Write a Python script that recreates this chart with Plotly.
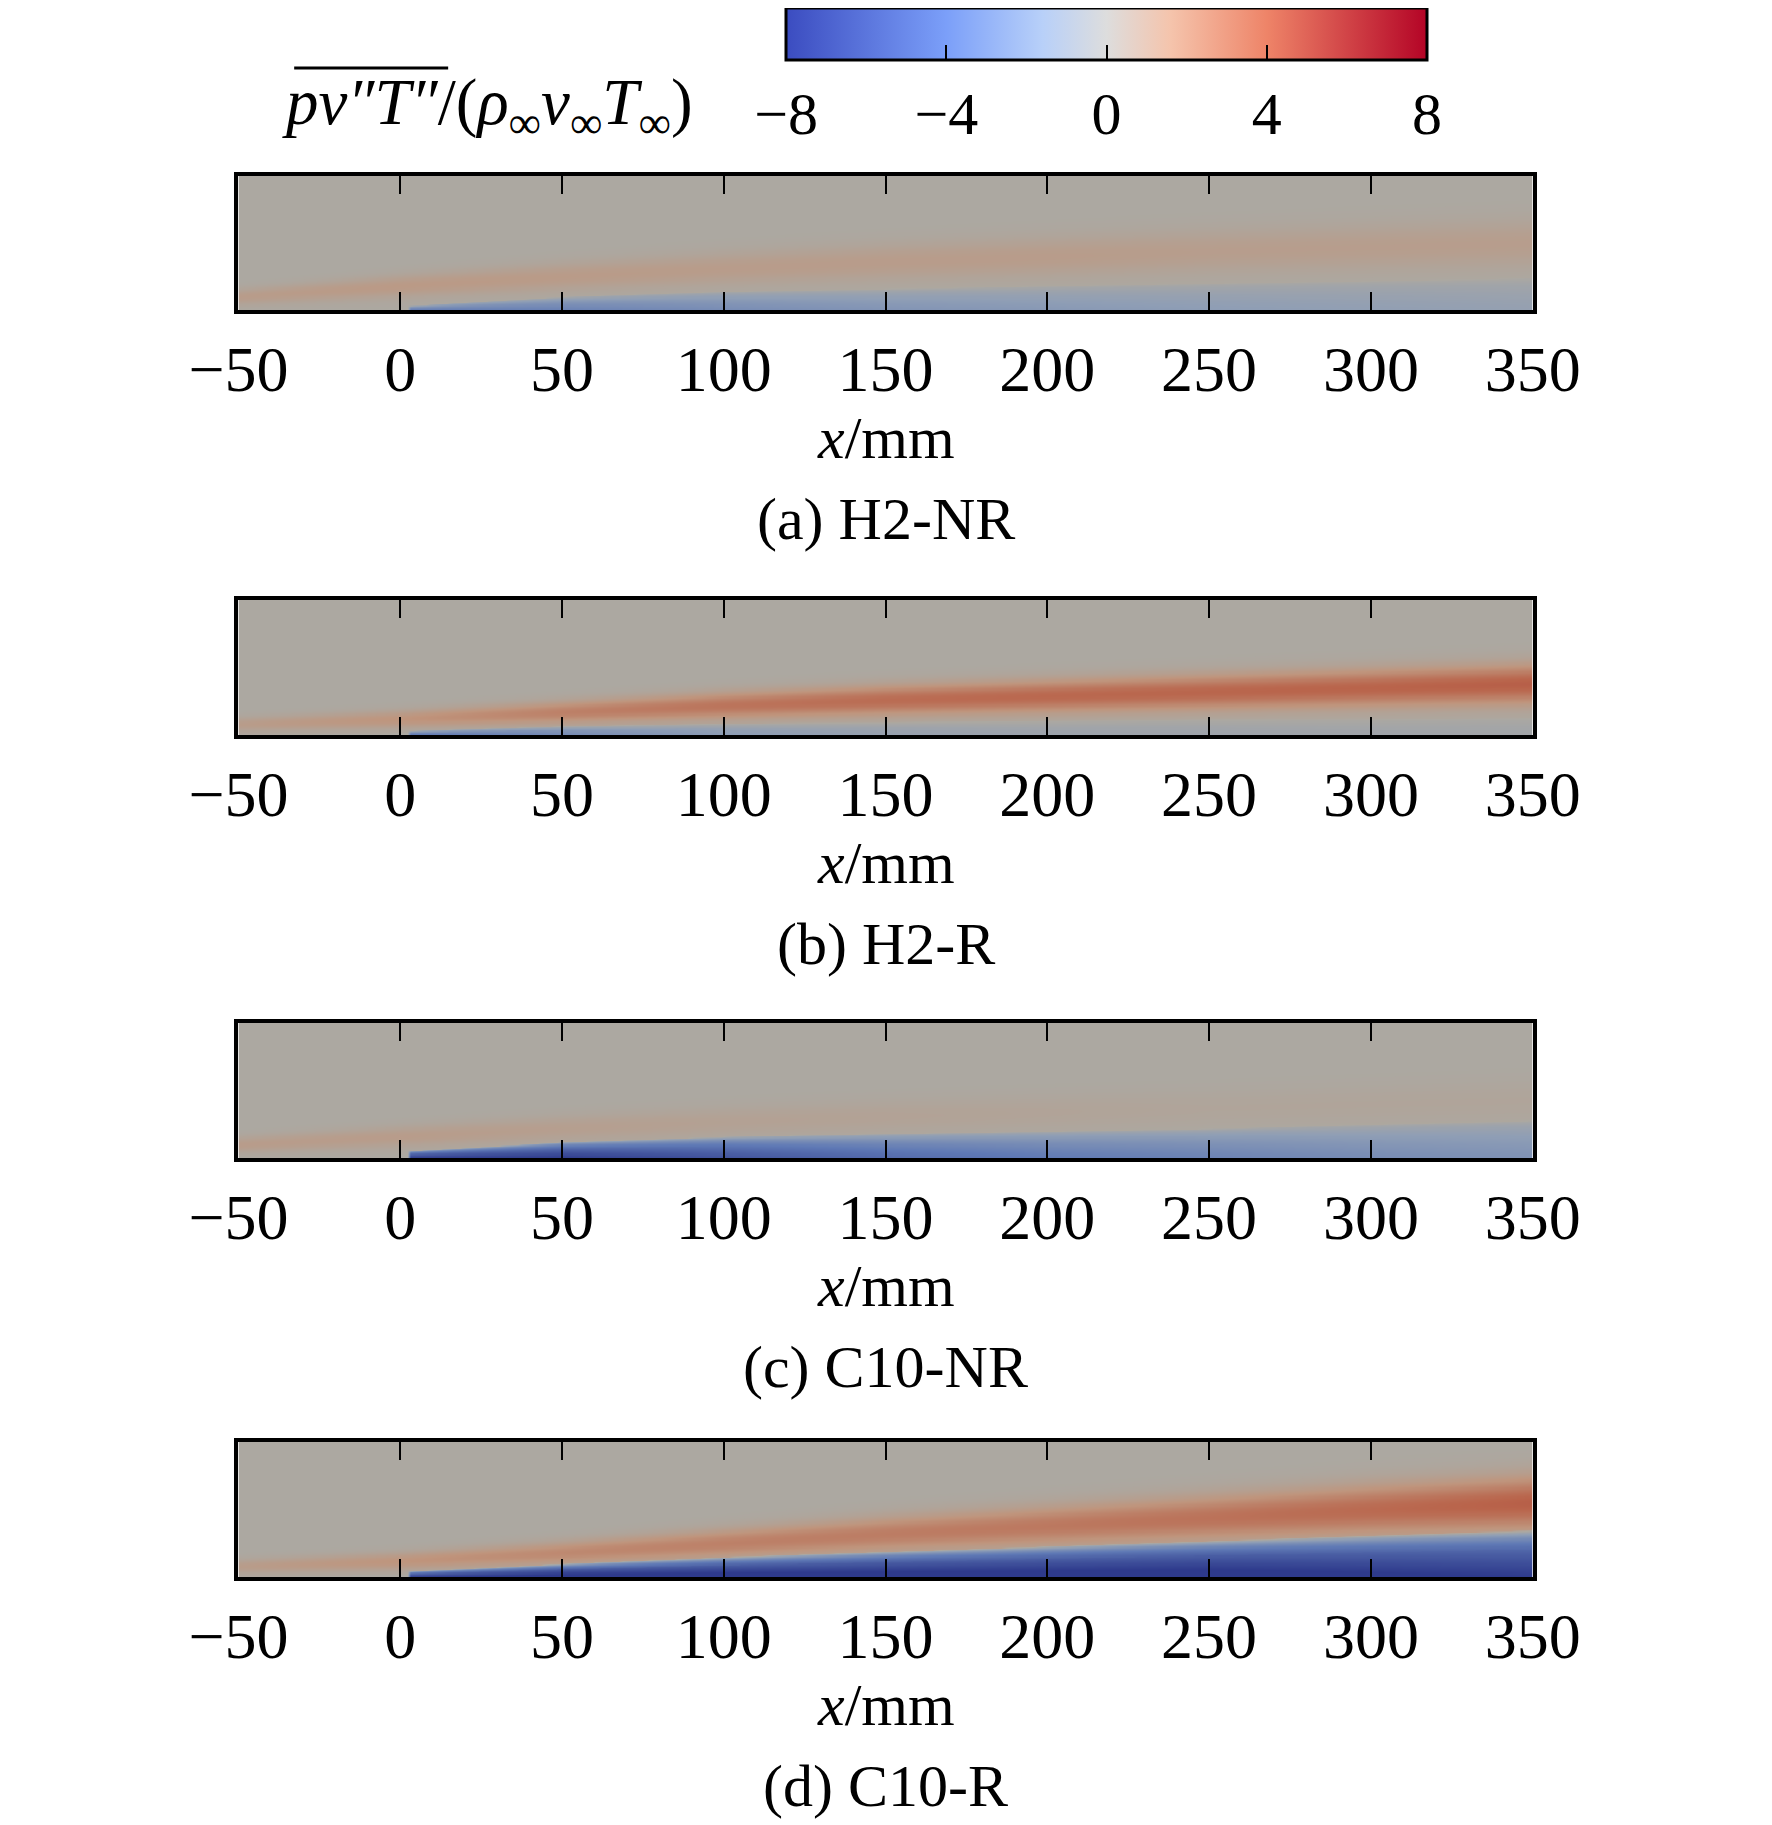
import numpy as np
import plotly.graph_objects as go

W, H = 1772, 1825
x_ticks = [-50, 0, 50, 100, 150, 200, 250, 300, 350]
cb_ticks = [-8, -4, 0, 4, 8]
captions = ["(a) H2-NR", "(b) H2-R", "(c) C10-NR", "(d) C10-R"]

# station data (x in mm, heights as fraction of panel height)
xs = [-50, 0, 50, 100, 150, 200, 250, 300, 350]
pos_h = {
    "a": [0.10, 0.18, 0.25, 0.31, 0.36, 0.40, 0.44, 0.47, 0.50],
    "b": [0.08, 0.12, 0.17, 0.22, 0.26, 0.29, 0.32, 0.35, 0.38],
    "c": [0.10, 0.16, 0.22, 0.27, 0.31, 0.34, 0.37, 0.40, 0.43],
    "d": [0.08, 0.12, 0.18, 0.25, 0.32, 0.38, 0.44, 0.50, 0.55],
}
pos_a = {
    "a": [1.0, 1.2, 1.1, 1.0, 1.0, 1.0, 0.9, 0.9, 0.9],
    "b": [1.0, 1.6, 2.6, 3.2, 3.6, 3.8, 3.9, 4.0, 4.2],
    "c": [1.0, 1.0, 0.8, 0.6, 0.5, 0.4, 0.3, 0.3, 0.3],
    "d": [1.0, 1.6, 2.2, 2.6, 2.8, 3.0, 3.3, 3.7, 4.2],
}
neg_h = {
    "a": [0.00, 0.03, 0.10, 0.14, 0.16, 0.18, 0.20, 0.22, 0.24],
    "b": [0.00, 0.03, 0.07, 0.09, 0.10, 0.11, 0.12, 0.12, 0.13],
    "c": [0.00, 0.05, 0.12, 0.16, 0.18, 0.20, 0.22, 0.25, 0.28],
    "d": [0.00, 0.04, 0.10, 0.15, 0.19, 0.23, 0.27, 0.31, 0.35],
}
neg_a = {
    "a": [0.0, -4.0, -3.5, -2.8, -2.3, -2.0, -1.7, -1.5, -1.3],
    "b": [0.0, -4.5, -3.0, -1.8, -1.2, -0.9, -0.8, -0.7, -0.6],
    "c": [0.0, -8.0, -8.0, -6.5, -5.0, -4.0, -3.4, -2.8, -2.4],
    "d": [0.0, -8.0, -9.0, -9.0, -9.0, -9.0, -9.0, -8.5, -8.0],
}

xg = np.linspace(-50, 350, 400)
yg = np.linspace(0, 1, 120)

def field(k):
    ph = np.interp(xg, xs, pos_h[k]); pa = np.interp(xg, xs, pos_a[k])
    nh = np.interp(xg, xs, neg_h[k]); na = np.interp(xg, xs, neg_a[k])
    Y = yg[:, None]
    z = pa * np.exp(-((Y - ph) / (0.28 * ph + 0.03)) ** 2)
    neg = na * np.clip(1 - Y / np.maximum(nh, 1e-3), 0, 1) ** 0.5
    neg = np.where(xg[None, :] < 3, 0, neg)
    return z * (Y > nh * 0.6) + neg

cool = [[0, "#3b4cc0"], [0.25, "#7b9ff9"], [0.4, "#b8d0f9"], [0.5, "#dddddd"],
        [0.6, "#f5c4ac"], [0.75, "#ee8468"], [1, "#b40426"]]
def darken(h, f=0.78):
    r, g, b = int(h[1:3], 16), int(h[3:5], 16), int(h[5:7], 16)
    return "rgb(%d,%d,%d)" % (r * f, g * f * 0.98, b * 0.73)
dark = [[p, darken(c)] for p, c in cool]

panels = [(168, 302), (592, 727), (1015, 1150), (1434, 1569)]
x0, x1 = 191 / W, 1561 / W
fig = go.Figure()
font = "Liberation Serif"
for i, (k, (t, b)) in enumerate(zip("abcd", panels)):
    n = "" if i == 0 else str(i + 1)
    fig.add_trace(go.Heatmap(x=xg, y=yg, z=field(k), zmin=-8, zmax=8, colorscale=dark,
                             zsmooth="best", showscale=False, xaxis="x" + n, yaxis="y" + n))
    fig.layout["xaxis" + n] = dict(domain=[x0, x1], anchor="y" + n, range=[-50, 350],
        tickvals=x_ticks, ticktext=[str(v).replace("-", "−") for v in x_ticks],
        ticks="inside", ticklen=18, tickwidth=2, tickcolor="black", mirror="ticks",
        showline=True, linewidth=4, linecolor="black", showgrid=False, zeroline=False,
        tickfont=dict(family=font, size=64, color="black"))
    fig.layout["yaxis" + n] = dict(domain=[1 - b / H, 1 - t / H], anchor="x" + n, range=[0, 1],
        showticklabels=False, ticks="", showline=True, linewidth=4, linecolor="black",
        mirror=True, showgrid=False, zeroline=False)
    fig.add_annotation(text="<i>x</i>/mm", x=0.5 * (x0 + x1), y=1 - (b + 128) / H, xref="paper",
                       yref="paper", yanchor="middle", showarrow=False,
                       font=dict(family=font, size=60, color="black"))
    fig.add_annotation(text=captions[i], x=0.5 * (x0 + x1), y=1 - (b + 209) / H, xref="paper",
                       yref="paper", yanchor="middle", showarrow=False,
                       font=dict(family=font, size=60, color="black"))

fig.add_trace(go.Heatmap(z=[[-8, 8]], x=[-50, -49], y=[0, 0.001], colorscale=cool, zmin=-8, zmax=8,
    opacity=0, hoverinfo="skip",
    colorbar=dict(orientation="h", x=1110 / W, xanchor="center", len=700 / W, lenmode="fraction",
                  y=1, yanchor="top", ypad=0, thickness=52, thicknessmode="pixels",
                  tickvals=cb_ticks, ticktext=[str(v).replace("-", "−") for v in cb_ticks],
                  ticks="inside", ticklen=16, tickwidth=2, tickcolor="black",
                  outlinewidth=3, outlinecolor="black",
                  tickfont=dict(family=font, size=60, color="black"))))
fig.add_annotation(text="<i>pv″T″</i>/(<i>ρ</i><sub>∞</sub><i>v</i><sub>∞</sub><i>T</i><sub>∞</sub>)",
                   x=674 / W, y=1 - 99 / H, xref="paper", yref="paper", xanchor="right",
                   yanchor="middle", showarrow=False, font=dict(family=font, size=65, color="black"))
fig.add_shape(type="line", xref="paper", yref="paper", x0=250 / W, x1=413 / W,
              y0=1 - 60 / H, y1=1 - 60 / H, line=dict(color="black", width=3))

fig.update_layout(width=W, height=H, margin=dict(l=0, r=0, t=0, b=0),
                  paper_bgcolor="white", plot_bgcolor="white", showlegend=False)
fig.write_html("out.html")
